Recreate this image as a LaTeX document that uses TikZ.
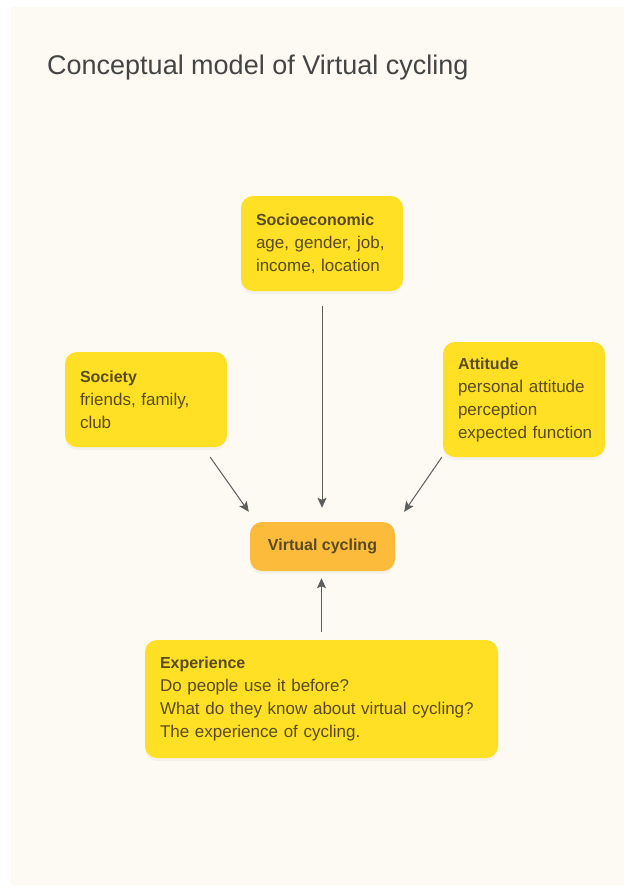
\documentclass[tikz,border=0pt]{standalone}
\usepackage{fontspec}
\setmainfont{Liberation Sans}
\usetikzlibrary{arrows.meta,shadows}
\definecolor{paper}{HTML}{FCFAF3}
\definecolor{boxyellow}{HTML}{FFE024}
\definecolor{boxorange}{HTML}{FDBB3C}
\definecolor{inktext}{HTML}{5A4B1E}
\definecolor{titleink}{HTML}{454545}
\definecolor{arrowgrey}{HTML}{5E5E5E}
\newcommand{\headline}[1]{{\fontsize{16}{23}\selectfont\bfseries #1}}
\begin{document}
\begin{tikzpicture}[x=1pt,y=-1pt,line join=round,>={Stealth[length=10pt,width=9pt,inset=2pt]},
	factor/.style={fill=boxyellow,rounded corners=12pt,text=inktext,align=left,
		inner xsep=15pt,inner ysep=0pt,font=\fontsize{17}{23}\selectfont,
		drop shadow={shadow xshift=0pt,shadow yshift=-3pt,opacity=0.07}},
	core/.style={fill=boxorange,rounded corners=12pt,text=inktext,
		minimum width=145pt,minimum height=49pt,inner sep=0pt,
		font=\fontsize{16}{20}\selectfont\bfseries,
		drop shadow={shadow xshift=0pt,shadow yshift=-3pt,opacity=0.07}},
	link/.style={->,draw=arrowgrey,line width=1pt}]
	
	\def \pw{624};
	\def \ph{887};
	\useasboundingbox (0,0) rectangle (\pw,\ph);
	\fill[white] (0,0) rectangle (\pw,\ph);
	\fill[paper] (11,7) rectangle (\pw,885);
	\node[anchor=base west,inner sep=0pt,text=titleink,font=\fontsize{27}{32}\selectfont] (title) at (47,74) {Conceptual model of Virtual cycling};
	
	% factors
	\node[factor,text width=132pt,minimum height=95pt] (socio) at (322,243.5) {\headline{Socioeconomic}\\age, gender, job,\\income, location};
	\node[factor,text width=132pt,minimum height=95pt] (society) at (146,399.5) {\headline{Society}\\friends, family,\\club};
	\node[factor,text width=132pt,minimum height=115pt] (attitude) at (524,399.5) {\headline{Attitude}\\personal attitude\\perception\\\mbox{expected function}};
	\node[factor,text width=323pt,minimum height=118pt] (exper) at (321.5,699) {\headline{Experience}\\Do people use it before?\\What do they know about virtual cycling?\\The experience of cycling.};
	\node[core] (vc) at (322.5,546.5) {Virtual cycling};
	
	% influences
	\draw[link,shorten <=15pt,shorten >=14pt] (socio) -- (socio |- vc.north);
	\draw[link] ([xshift=-17pt,yshift=-10pt]society.south east) -- ([xshift=-1pt,yshift=10pt]vc.north west);
	\draw[link] ([xshift=-1pt]attitude.south west) -- ([xshift=9pt,yshift=10pt]vc.north east);
	\draw[link,shorten <=8pt,shorten >=7pt] (exper.north) -- (exper.north |- vc.south);
\end{tikzpicture}
\end{document}
